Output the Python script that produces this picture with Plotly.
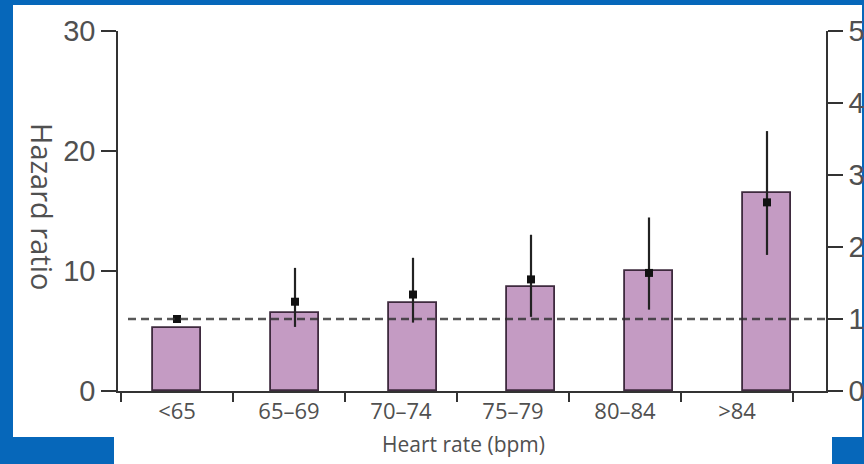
import plotly.graph_objects as go

# ---- data ----
categories = ["<65", "65–69", "70–74", "75–79", "80–84", ">84"]
event_rate = [5.25, 6.5, 7.33, 8.7, 10.0, 16.5]          # left axis (bars)
hazard_ratio = [1.0, 1.24, 1.34, 1.55, 1.64, 2.62]       # right axis (points)
hr_low = [1.0, 0.89, 0.95, 1.03, 1.13, 1.89]
hr_high = [1.0, 1.71, 1.85, 2.17, 2.41, 3.61]
left_ticks = [0, 10, 20, 30]
right_ticks = [0, 1, 2, 3, 4, 5]
REF_HR = 1.0

W, H = 864, 464
L, R, T, B = 118, 38, 31, 73
PW, PH = W - L - R, H - T - B

def px(xp):
    return (xp - L) / PW

def py(yp):
    return (H - B - yp) / PH

BLUE = "#0667BA"
TXT = "#505050"
AX = "#333333"
num_font = dict(family="Liberation Sans, Arial, sans-serif", size=29, color=TXT)
lab_font = dict(family="Open Sans, Liberation Sans, sans-serif", size=22, color=TXT)

fig = go.Figure()

# invisible trace to give the labelled x axis a subplot
fig.add_trace(go.Scatter(x=categories, y=event_rate, xaxis="x", yaxis="y",
                         mode="markers", marker=dict(opacity=0), hoverinfo="skip",
                         showlegend=False))

fig.add_trace(go.Bar(x=categories, y=event_rate, xaxis="x2", yaxis="y",
                     width=0.41, marker=dict(color="#C49BC3",
                                             line=dict(color="#3E2A3E", width=1.8)),
                     showlegend=False))

fig.add_trace(go.Scatter(
    x=categories, y=hazard_ratio, xaxis="x2", yaxis="y2", mode="markers",
    marker=dict(symbol="square", size=8, color="#111111"),
    error_y=dict(type="data", symmetric=False,
                 array=[h - m for h, m in zip(hr_high, hazard_ratio)],
                 arrayminus=[m - l for m, l in zip(hazard_ratio, hr_low)],
                 thickness=2.2, width=0, color="#222222"),
    showlegend=False))

shapes = [
    dict(type="rect", xref="paper", yref="paper", x0=px(13), x1=px(862), y0=py(437), y1=py(5),
         fillcolor="white", line=dict(width=0), layer="below"),
    dict(type="rect", xref="paper", yref="paper", x0=px(114), x1=px(832), y0=py(464), y1=py(436),
         fillcolor="white", line=dict(width=0), layer="below"),
    dict(type="line", xref="paper", yref="y2", x0=px(128), x1=1.0, y0=REF_HR, y1=REF_HR,
         line=dict(color="rgba(45,45,45,0.8)", width=2.6, dash="8px,5px"), layer="above"),
]

annotations = [
    dict(text="Hazard ratio", xref="paper", yref="paper", x=px(43), y=py(206),
         xanchor="center", yanchor="middle",
         showarrow=False, textangle=90, font=dict(family="Open Sans, sans-serif", size=29, color=TXT)),
    dict(text="Heart rate (bpm)", xref="paper", yref="paper", x=px(463), y=py(444),
         xanchor="center", yanchor="middle",
         showarrow=False, font=dict(family="Open Sans, sans-serif", size=21, color=TXT)),
]

fig.update_layout(
    width=W, height=H,
    margin=dict(l=L, r=R, t=T, b=B, autoexpand=False),
    paper_bgcolor=BLUE, plot_bgcolor="rgba(0,0,0,0)",
    bargap=0.0,
    xaxis=dict(type="category", categoryorder="array", categoryarray=categories,
               range=[-0.5, 5.5], domain=[px(121), px(793)], anchor="y", automargin=False,
               tickson="boundaries", ticks="outside", ticklen=10, tickwidth=1.5, tickcolor=AX,
               ticklabelstandoff=5,
               showline=False, showgrid=False, zeroline=False, tickfont=lab_font),
    xaxis2=dict(type="category", categoryorder="array", categoryarray=categories,
                range=[-0.5, 5.5], domain=[0, 1], anchor="y", automargin=False,
                showline=True, linecolor=AX, linewidth=1.6, ticks="", showticklabels=False,
                showgrid=False, zeroline=False),
    yaxis=dict(range=[0, 30], tickvals=left_ticks, anchor="x2", side="left", automargin=False,
               showline=True, linecolor=AX, linewidth=1.6, ticks="outside", ticklen=15,
               tickwidth=1.6, tickcolor=AX, showgrid=False, zeroline=False, tickfont=num_font),
    yaxis2=dict(range=[0, 5], tickvals=right_ticks, overlaying="y", anchor="x2", side="right",
                automargin=False,
                showline=True, linecolor=AX, linewidth=1.6, ticks="outside", ticklen=15,
                tickwidth=1.6, tickcolor=AX, showgrid=False, zeroline=False, tickfont=num_font),
    shapes=shapes, annotations=annotations,
)

fig.write_html("out.html", config={"displayModeBar": False},
               post_script="document.body.style.margin='0';document.body.style.background='" + BLUE + "';")
